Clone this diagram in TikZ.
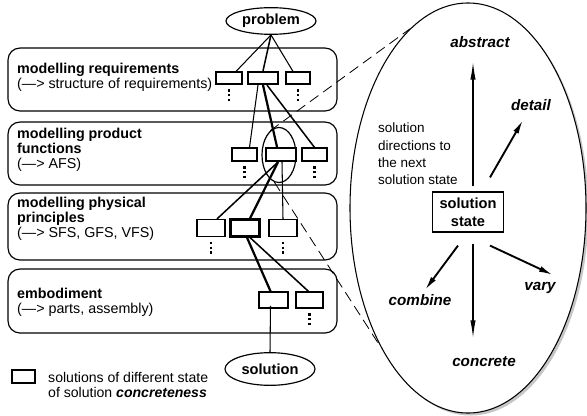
\documentclass[tikz,border=0pt]{standalone}
\usepackage{fontspec}
\setmainfont{Liberation Sans}
\usetikzlibrary{shapes.geometric, arrows.meta, positioning}

\tikzset{
  layer/.style={draw, line width=1pt, rounded corners=0.36cm},
  laytext/.style={anchor=west, align=left, inner sep=0pt, font=\fontsize{12.2}{13}\selectfont},
  sol/.style={draw, rectangle, line width=1pt, inner sep=0pt},
  solmain/.style={sol, line width=1.8pt},
  term/.style={draw, ellipse, line width=1pt, inner sep=0pt, minimum width=2.7cm, font=\bfseries\fontsize{12.5}{14}\selectfont},
  link/.style={line width=0.9pt},
  mainlink/.style={line width=1.9pt},
  dotcol/.style={line width=1.9pt, dash pattern=on 1.9pt off 2.2pt},
  zoomline/.style={line width=0.7pt, dash pattern=on 9pt off 5pt},
  dirlabel/.style={inner sep=1pt, font=\bfseries\itshape\fontsize{13}{15}\selectfont},
  dirthin/.style={line width=1pt, -{Latex[length=15pt,width=4.5pt]}},
  dirthick/.style={line width=1.6pt, -{Latex[length=12pt,width=5pt]}}
}

\begin{document}
\begin{tikzpicture}[x=0.03cm, y=-0.03cm]
    \useasboundingbox (0,0) rectangle (587,415);

    \draw [layer] (8,48) rectangle (337,111);
    \draw [layer] (8,122) rectangle (337,185);
    \draw [layer] (8,193) rectangle (337,260);
    \draw [layer] (8,269) rectangle (337,333);

    \node (t1) at (17,77) [laytext] {\textbf{modelling requirements}\\(—> structure of requirements)};
    \node (t2) at (17,150) [laytext] {\textbf{modelling product}\\\textbf{functions}\\(—> AFS)};
    \node (t3) at (17,219) [laytext] {\textbf{modelling physical}\\\textbf{principles}\\(—> SFS, GFS, VFS)};
    \node (t4) at (17,302) [laytext] {\textbf{embodiment}\\(—> parts, assembly)};

    \node (prob) at (271,21) [term, minimum height=0.8cm] {problem};
    \node (sol) at (270,369) [term, minimum height=0.98cm] {solution};

    \node (r1a) at (229,78) [sol, minimum width=0.78cm, minimum height=0.36cm] {};
    \node (r1b) at (263,78) [solmain, minimum width=0.9cm, minimum height=0.36cm] {};
    \node (r1c) at (298,78) [sol, minimum width=0.72cm, minimum height=0.36cm] {};

    \node (r2a) at (244.5,154.5) [sol, minimum width=0.75cm, minimum height=0.39cm] {};
    \node (r2b) at (281,154.5) [solmain, minimum width=0.9cm, minimum height=0.39cm] {};
    \node (r2c) at (314.5,154.5) [sol, minimum width=0.75cm, minimum height=0.39cm] {};

    \node (r3a) at (211,228) [sol, minimum width=0.84cm, minimum height=0.51cm] {};
    \node (r3b) at (245,228) [solmain, minimum width=0.87cm, minimum height=0.51cm] {};
    \node (r3c) at (283,228) [sol, minimum width=0.84cm, minimum height=0.51cm] {};

    \node (r4a) at (273.5,300) [sol, line width=1.3pt, minimum width=0.87cm, minimum height=0.48cm] {};
    \node (r4b) at (309.5,300) [sol, minimum width=0.81cm, minimum height=0.48cm] {};

    \foreach \r in {r1a,r1c,r2a,r2c,r3a,r3c,r4b}
        \draw [dotcol] ([yshift=-4pt]\r.south) -- ++(0,14);

    \draw [link] (prob.south) -- ([shift={(7,0)}]r1a.north);
    \draw [link, line width=1.3pt] (prob.south) -- (r1b.north);
    \draw [link] (prob.south) -- ([shift={(-5,0)}]r1c.north);

    \draw [link] ([shift={(-5,0)}]r1b.south) -- ([shift={(5,0)}]r2a.north);
    \draw [mainlink] (r1b.south) -- ([shift={(-4,0)}]r2b.north);
    \draw [link, line width=1.3pt] ([shift={(4,0)}]r1b.south) -- (r2c.north);

    \draw [link, line width=1.3pt] ([shift={(-3,0)}]r2b.south) -- ([shift={(6,0)}]r3a.north);
    \draw [mainlink] ([shift={(-3,0)}]r2b.south) -- ([shift={(5,0)}]r3b.north);
    \draw [link] ([shift={(1,0)}]r2b.south) -- (r3c.north);

    \draw [mainlink] ([shift={(2,0)}]r3b.south) -- ([shift={(-3,0)}]r4a.north);
    \draw [link, line width=1.3pt] ([shift={(5,0)}]r3b.south) -- ([shift={(-1,0)}]r4b.north);
    \draw [link] ([shift={(-3,-3)}]r4a.south) -- (sol.north);

    \node (focus) at (279,155) [draw, ellipse, line width=1pt, minimum width=1.02cm, minimum height=1.65cm] {};

    \node (viewshade) at (470.5,210.5) [ellipse, fill=gray!45, minimum width=7.08cm, minimum height=12.3cm] {};
    \node (view) at (468,208) [draw, ellipse, fill=white, line width=0.9pt, minimum width=7.08cm, minimum height=12.3cm] {};

    \draw [zoomline] (focus.110) -- (view.108);
    \draw [zoomline] (focus.260) -- (view.238);

    \node (state) at (468,212) [draw, line width=1pt, minimum width=2.13cm, minimum height=1.2cm, align=center, inner sep=0pt, font=\bfseries\fontsize{12.5}{15}\selectfont] {solution\\state};
    \node (hint) at (378,154) [laytext, font=\fontsize{11.5}{14.7}\selectfont] {solution\\directions to\\the next\\solution state};

    \node (abs) at (480,42) [dirlabel] {abstract};
    \node (det) at (531,105) [dirlabel] {detail};
    \node (var) at (540,288) [dirlabel] {vary};
    \node (comb) at (420,300) [dirlabel] {combine};
    \node (conc) at (484,362) [dirlabel] {concrete};

    \coordinate (tipA) at (473,62);
    \coordinate (tipD) at (523,120);
    \coordinate (tipV) at (553,275);
    \coordinate (tipB) at (425,290);
    \coordinate (tipC) at (473,338);

    \draw [dirthin] ([shift={(5,-5)}]state.north) -- (tipA);
    \draw [dirthick] ([shift={(22,-14)}]state.north) -- (tipD);
    \draw [dirthick] ([shift={(22,13)}]state.south) -- (tipV);
    \draw [dirthick] ([shift={(-10,13)}]state.south) -- (tipB);
    \draw [dirthin] ([shift={(5,11)}]state.south) -- (tipC);

    \node (key) at (23.5,376.5) [sol, minimum width=0.69cm, minimum height=0.39cm] {};
    \node (keytext) at (48,385) [laytext, font=\fontsize{12}{13.6}\selectfont] {solutions of different state\\of solution \textbf{\textit{concreteness}}};
\end{tikzpicture}
\end{document}
